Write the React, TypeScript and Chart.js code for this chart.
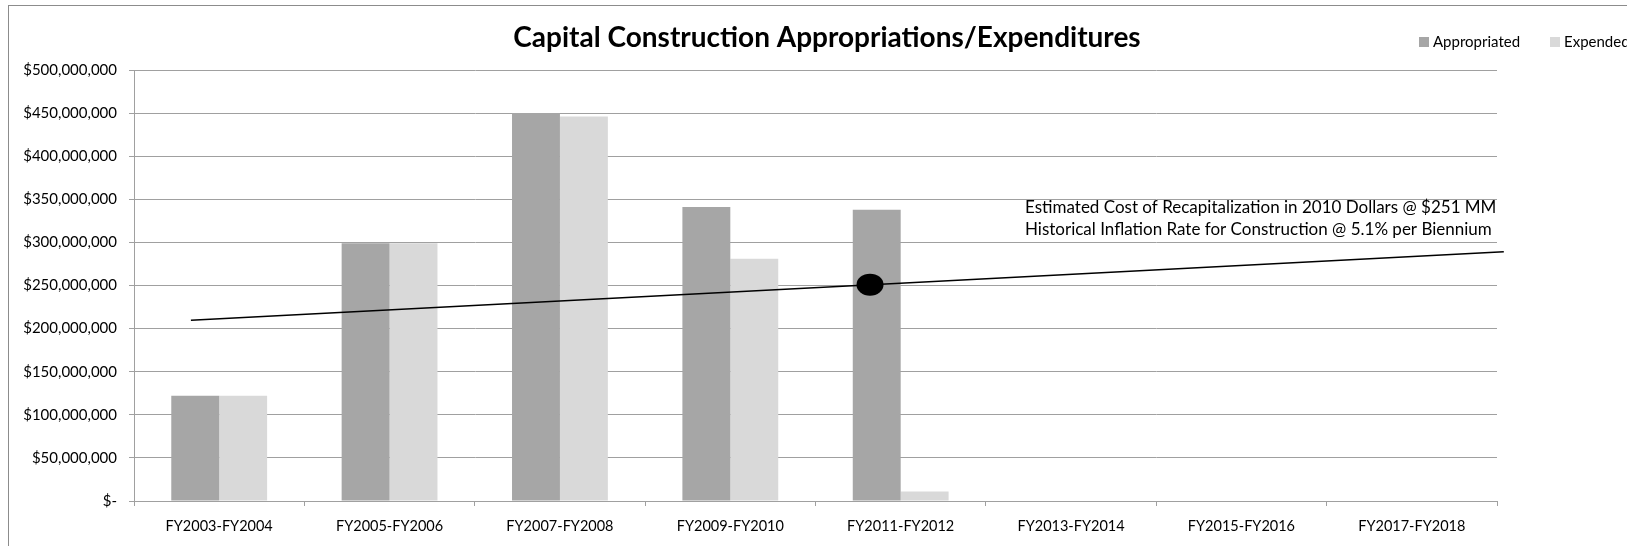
import React, { useEffect, useRef } from 'react';
import { Chart, registerables } from 'chart.js';

Chart.register(...registerables);

// ---- Data ----
const categories = [
  'FY2003-FY2004',
  'FY2005-FY2006',
  'FY2007-FY2008',
  'FY2009-FY2010',
  'FY2011-FY2012',
  'FY2013-FY2014',
  'FY2015-FY2016',
  'FY2017-FY2018',
];
const appropriated = [122e6, 299e6, 450e6, 341e6, 338e6, null, null, null];
const expended = [122e6, 299e6, 446e6, 281e6, 11e6, null, null, null];

// Inflation trend line (x in category units, 0 = left edge of first category)
const trendX = [0.334, 8.04];
const trendY = [209.6e6, 289.2e6];
// Marker: estimated recapitalization cost in 2010 dollars
const markerX = [4.32];
const markerY = [251e6];

const yMin = 0;
const yMax = 500e6;
const yStep = 50e6;

const titleText = 'Capital Construction Appropriations/Expenditures';
const seriesLabels = ['Appropriated', 'Expended'];
const annotationLines = [
  'Estimated Cost of Recapitalization in 2010 Dollars @ $251 MM',
  'Historical Inflation Rate for Construction @ 5.1% per Biennium',
];

// ---- Styles ----
const FONT = 'Lato, "Open Sans", "Noto Sans", sans-serif';
const darkGray = '#a6a6a6';
const lightGray = '#d9d9d9';
const gridColor = '#a0a0a0';

const decorPlugin = {
  id: 'decor',
  beforeDraw(chart: any) {
    const ctx = chart.ctx;
    ctx.save();
    ctx.fillStyle = '#fff';
    ctx.fillRect(0, 0, chart.width, chart.height);
    ctx.strokeStyle = '#8c8c8c';
    ctx.lineWidth = 1;
    ctx.strokeRect(8.5, 5.5, chart.width + 20, chart.height + 20);
    ctx.restore();
  },
  afterDatasetsDraw(chart: any) {
    const ctx = chart.ctx;
    const xs = chart.scales.x2;
    const ys = chart.scales.y;
    ctx.save();
    // trend line
    ctx.strokeStyle = '#000';
    ctx.lineWidth = 1.5;
    ctx.beginPath();
    trendX.forEach((x, i) => {
      const px = xs.getPixelForValue(x);
      const py = ys.getPixelForValue(trendY[i]);
      if (i === 0) ctx.moveTo(px, py);
      else ctx.lineTo(px, py);
    });
    ctx.stroke();
    // marker
    ctx.fillStyle = '#000';
    markerX.forEach((x, i) => {
      const px = xs.getPixelForValue(x);
      const py = ys.getPixelForValue(markerY[i]);
      ctx.beginPath();
      ctx.ellipse(px, py, 13.5, 11, 0, 0, Math.PI * 2);
      ctx.fill();
    });
    ctx.restore();
  },
  afterDraw(chart: any) {
    const ctx = chart.ctx;
    ctx.save();
    // Title
    ctx.fillStyle = '#000';
    ctx.font = `bold 28px ${FONT}`;
    ctx.textAlign = 'center';
    ctx.textBaseline = 'alphabetic';
    ctx.fillText(titleText, 827, 47);

    // Legend
    ctx.font = `15px ${FONT}`;
    ctx.textAlign = 'left';
    const legendX = [1419, 1550];
    const colors = [chart.data.datasets[0].backgroundColor, chart.data.datasets[1].backgroundColor];
    seriesLabels.forEach((lab, i) => {
      ctx.fillStyle = colors[i];
      ctx.fillRect(legendX[i], 37, 10, 10);
      ctx.fillStyle = '#000';
      ctx.fillText(lab, legendX[i] + 14, 47);
    });

    // Annotation text box
    ctx.font = `17px ${FONT}`;
    ctx.textAlign = 'left';
    ctx.fillText(annotationLines[0], 1025, 213);
    ctx.fillText(annotationLines[1], 1025, 235);
    ctx.restore();
  },
};

export default function App() {
  const ref = useRef<HTMLCanvasElement | null>(null);

  useEffect(() => {
    if (!ref.current) return;
    const chart = new Chart(ref.current, {
      type: 'bar',
      data: {
        labels: categories,
        datasets: [
          {
            label: seriesLabels[0],
            data: appropriated,
            backgroundColor: darkGray,
            barPercentage: 1,
            categoryPercentage: 0.5625,
          },
          {
            label: seriesLabels[1],
            data: expended,
            backgroundColor: lightGray,
            barPercentage: 1,
            categoryPercentage: 0.5625,
          },
        ],
      },
      options: {
        responsive: false,
        animation: false,
        devicePixelRatio: 1,
        layout: { padding: { left: 0, right: 130, top: 70, bottom: 0 } },
        plugins: {
          legend: { display: false },
          tooltip: { enabled: false },
          title: { display: false },
        },
        scales: {
          x: {
            type: 'category',
            offset: true,
            grid: {
              offset: true,
              drawOnChartArea: false,
              drawTicks: true,
              tickLength: 5,
              color: gridColor,
            },
            border: { color: gridColor },
            ticks: {
              color: '#000',
              font: { family: FONT, size: 14.5 },
              padding: 12,
              maxRotation: 0,
              autoSkip: false,
            },
            afterFit: (s: any) => {
              s.height = 45;
            },
          },
          x2: {
            type: 'linear',
            display: false,
            offset: false,
            min: 0,
            max: 8,
          },
          y: {
            min: yMin,
            max: yMax,
            ticks: {
              stepSize: yStep,
              color: '#000',
              font: { family: FONT, size: 15 },
              padding: 12,
              callback: (v: any) =>
                Number(v) === 0 ? '$-' : '$' + Number(v).toLocaleString('en-US'),
            },
            grid: { color: gridColor, tickLength: 5 },
            border: { color: gridColor },
            afterFit: (s: any) => {
              s.width = 134;
            },
          },
        },
      } as any,
      plugins: [decorPlugin],
    });
    return () => chart.destroy();
  }, []);

  return (
    <div style={{ position: 'absolute', left: 0, top: 0, width: 1627, height: 546 }}>
      <canvas ref={ref} width={1627} height={546} style={{ display: 'block' }} />
    </div>
  );
}
